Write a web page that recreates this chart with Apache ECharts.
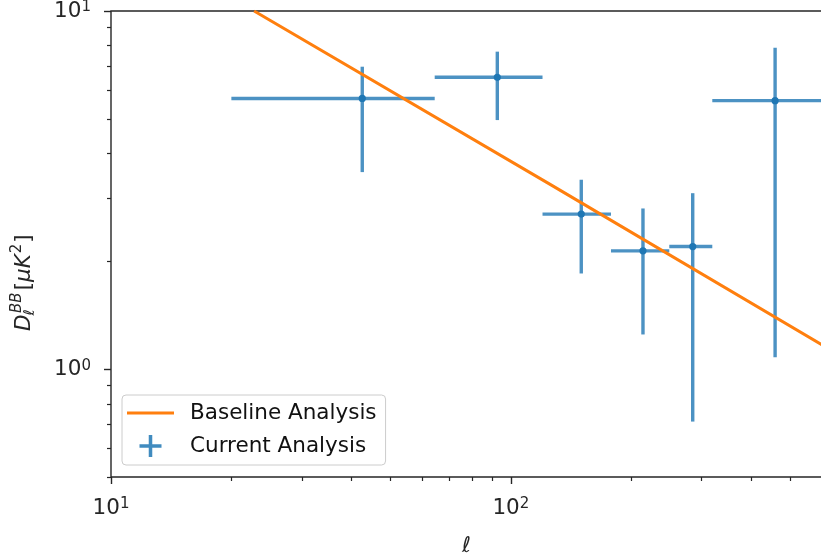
<!DOCTYPE html>
<html>
<head>
<meta charset="utf-8">
<script src="https://cdn.jsdelivr.net/npm/echarts@6/dist/echarts.min.js"></script>
<style>
  html, body { margin: 0; padding: 0; background: #ffffff; }
  #chart { width: 821px; height: 559px; }
</style>
</head>
<body>
<div id="chart"></div>
<script>
// Band powers: multipole bin centres, bin edges, D_ell and its error range
const ellCentre = [42.5, 92.5, 150, 214, 285, 458];
const ellLow    = [20, 64.5, 120, 178, 249, 319];
const ellHigh   = [64.5, 120, 178, 249, 319, 600];
const dlValue   = [5.70, 6.53, 2.71, 2.14, 2.20, 5.62];
const dlLow     = [3.55, 4.96, 1.85, 1.25, 0.714, 1.08];
const dlHigh    = [6.99, 7.70, 3.38, 2.81, 3.10, 7.90];

// Baseline model curve (a straight line in log-log)
const baselineEll = [22.8, 126, 600];
const baselineDl  = [10, 3.27, 1.17];

// Axis ticks
const xMajorTicks = [10, 100];
const xMinorTicks = [20, 30, 40, 50, 60, 70, 80, 90, 200, 300, 400, 500, 600];
const yMajorTicks = [1, 10];
const yMinorTicks = [0.5, 0.6, 0.7, 0.8, 0.9, 2, 3, 4, 5, 6, 7, 8, 9];

const FONT = 'DejaVu Sans';
const BASE = 21.5;
const SMALL = 15;
const BLUE = '#1f77b4';
const ORANGE = '#ff7f0e';
const INK = '#262626';

function powLabel(v) {
  const e = Math.round(Math.log10(v));
  return '{b|10}{e|' + e + '}';
}
const powRich = {
  b: { fontSize: BASE, fontFamily: FONT, color: INK },
  e: { fontSize: SMALL, fontFamily: FONT, color: INK, verticalAlign: 'top' }
};

const chart = echarts.init(document.getElementById('chart'), null, { renderer: 'canvas' });

// y-axis title  D_l^BB [muK^2], laid out piece by piece and rotated
const measureCtx = document.createElement('canvas').getContext('2d');
function textWidth(str, font) { measureCtx.font = font; return measureCtx.measureText(str).width; }
function yTitle() {
  const big = BASE + 'px "' + FONT + '"';
  const bigI = 'italic ' + big;
  const sm = SMALL + 'px "' + FONT + '"';
  const smI = 'italic ' + sm;
  const parts = [];
  let x = 0;
  const put = (str, font, dx, dy) => {
    parts.push({ type: 'text', x: x + dx, y: dy,
      style: { text: str, font: font, fill: INK, verticalAlign: 'middle', align: 'left' } });
  };
  put('D', bigI, 0, 0);
  x += textWidth('D', bigI);
  put('BB', smI, 1.5, -7);
  put('\u2113', smI, -1, 6);
  x += Math.max(textWidth('BB', smI) + 1.5, textWidth('\u2113', smI)) + 2;
  put('[', big, 0, 0); x += textWidth('[', big);
  put('\u03bc', bigI, 0, 0); x += textWidth('\u03bc', bigI);
  put('K', bigI, 0, 0); x += textWidth('K', bigI) + 1;
  put('2', sm, 0, -7); x += textWidth('2', sm) + 1;
  put(']', big, 0, 0);
  return { type: 'group', x: 24, y: 331, rotation: Math.PI / 2, children: parts };
}

const option = {
  animation: false,
  backgroundColor: '#ffffff',
  grid: {
    left: 111, top: 11, width: 711, height: 466,
    show: true, borderColor: '#262626', borderWidth: 1.4, backgroundColor: 'transparent',
    outerBoundsMode: 'none'
  },
  legend: {
    orient: 'vertical', left: 122, top: 395,
    padding: [7, 9, 8, 5],
    itemWidth: 47, itemHeight: 22, itemGap: 11,
    symbolKeepAspect: true,
    backgroundColor: 'rgba(255,255,255,0.8)',
    borderColor: '#cccccc', borderWidth: 1, borderRadius: 4,
    textStyle: { fontFamily: FONT, fontSize: BASE, color: '#111', padding: [0, 0, 0, 11], lineHeight: 22 },
    data: [
      { name: 'Baseline Analysis', icon: 'path://M0,0H47V3.2H0Z', itemStyle: { color: ORANGE } },
      { name: 'Current Analysis',
        icon: 'path://M8.4,0H11.6V8.4H20V11.6H11.6V20H8.4V11.6H0V8.4H8.4Z',
        itemStyle: { color: BLUE, opacity: 0.85 } }
    ]
  },
  xAxis: [
    {
      type: 'log', logBase: 10, min: 10, max: 600, gridIndex: 0, position: 'bottom',
      name: '\u2113', nameLocation: 'middle', nameGap: 58,
      nameTextStyle: { fontFamily: FONT, fontSize: BASE, fontStyle: 'italic', color: INK },
      axisLine: { show: false },
      axisTick: { show: true, length: 7, lineStyle: { color: INK, width: 1.4 }, customValues: xMajorTicks },
      axisLabel: { show: true, margin: 20, customValues: xMajorTicks, formatter: powLabel, rich: powRich },
      splitLine: { show: false }, minorTick: { show: false }
    },
    {
      type: 'log', logBase: 10, min: 10, max: 600, gridIndex: 0, position: 'bottom',
      axisLine: { show: false },
      axisTick: { show: true, length: 4, lineStyle: { color: INK, width: 1.2 }, customValues: xMinorTicks },
      axisLabel: { show: false }, splitLine: { show: false }
    }
  ],
  yAxis: [
    {
      type: 'log', logBase: 10, min: 0.5, max: 10, gridIndex: 0, position: 'left',
      axisLine: { show: false },
      axisTick: { show: true, length: 7, lineStyle: { color: INK, width: 1.4 }, customValues: yMajorTicks },
      axisLabel: { show: true, margin: 20, customValues: yMajorTicks, formatter: powLabel, rich: powRich },
      splitLine: { show: false }, minorTick: { show: false }
    },
    {
      type: 'log', logBase: 10, min: 0.5, max: 10, gridIndex: 0, position: 'left',
      axisLine: { show: false },
      axisTick: { show: true, length: 4, lineStyle: { color: INK, width: 1.2 }, customValues: yMinorTicks },
      axisLabel: { show: false }, splitLine: { show: false }
    }
  ],
  series: [
    {
      name: 'Baseline Analysis', type: 'line', xAxisIndex: 0, yAxisIndex: 0,
      data: baselineEll.map((e, i) => [e, baselineDl[i]]),
      showSymbol: false, symbol: 'none', clip: true, z: 3,
      lineStyle: { color: ORANGE, width: 3 },
      itemStyle: { color: ORANGE }
    },
    {
      name: 'Current Analysis', type: 'custom', xAxisIndex: 0, yAxisIndex: 0, z: 2,
      itemStyle: { color: BLUE },
      data: ellCentre.map((e, i) => [e, dlValue[i], ellLow[i], ellHigh[i], dlLow[i], dlHigh[i]]),
      encode: { x: [0, 2, 3], y: [1, 4, 5] },
      renderItem: function (params, api) {
        const c = api.coord([api.value(0), api.value(1)]);
        const l = api.coord([api.value(2), api.value(1)]);
        const r = api.coord([api.value(3), api.value(1)]);
        const b = api.coord([api.value(0), api.value(4)]);
        const t = api.coord([api.value(0), api.value(5)]);
        const bar = { stroke: BLUE, lineWidth: 3.4, opacity: 0.8 };
        return {
          type: 'group',
          children: [
            { type: 'line', shape: { x1: l[0], y1: l[1], x2: r[0], y2: r[1] }, style: bar },
            { type: 'line', shape: { x1: b[0], y1: b[1], x2: t[0], y2: t[1] }, style: bar },
            { type: 'circle', shape: { cx: c[0], cy: c[1], r: 3.6 }, style: { fill: BLUE } }
          ]
        };
      }
    }
  ],
  graphic: [yTitle()]
};

chart.setOption(option);
</script>
</body>
</html>
